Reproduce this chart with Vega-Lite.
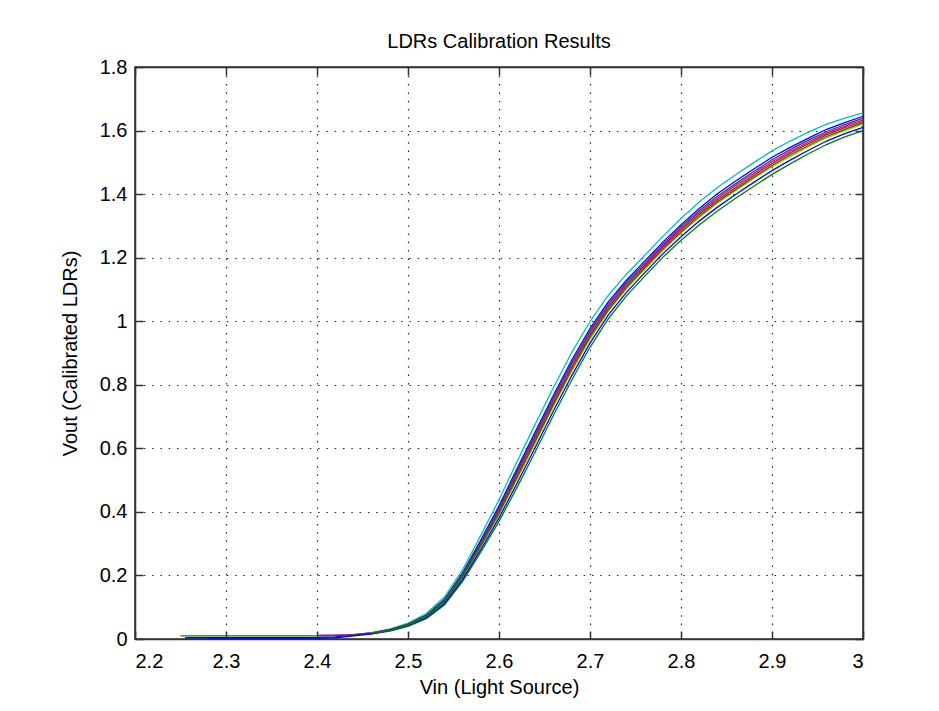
{
  "$schema": "https://vega.github.io/schema/vega-lite/v6.json",
  "width": 728,
  "height": 572,
  "autosize": {"type": "none"},
  "padding": {"left": 135, "top": 67, "right": 76, "bottom": 72},
  "background": "white",
  "title": {"text": "LDRs Calibration Results", "fontSize": 20, "font": "Liberation Sans", "fontWeight": "normal", "color": "#000000", "offset": 5, "anchor": "middle"},
  "config": {
    "view": {"stroke": "#333333", "strokeWidth": 1.5},
    "axis": {
      "labelFont": "Liberation Sans", "labelFontSize": 20, "labelColor": "#000000",
      "titleFont": "Liberation Sans", "titleFontSize": 20, "titleFontWeight": "normal", "titleColor": "#000000",
      "domainColor": "#333333", "domainWidth": 1.5,
      "tickColor": "#333333", "tickWidth": 1.5, "tickSize": -8,
      "gridColor": "#222222", "gridWidth": 1.2, "gridDash": [1.5, 6.8], "gridOpacity": 1
    }
  },
  "data": {"values": [
    {"s":"1","x":2.255,"y":0.004},{"s":"1","x":2.30,"y":0.004},{"s":"1","x":2.35,"y":0.004},{"s":"1","x":2.40,"y":0.005},{"s":"1","x":2.42,"y":0.007},{"s":"1","x":2.44,"y":0.013},{"s":"1","x":2.46,"y":0.019},{"s":"1","x":2.48,"y":0.029},{"s":"1","x":2.50,"y":0.047},{"s":"1","x":2.52,"y":0.075},{"s":"1","x":2.54,"y":0.125},{"s":"1","x":2.56,"y":0.208},{"s":"1","x":2.58,"y":0.311},{"s":"1","x":2.60,"y":0.419},{"s":"1","x":2.62,"y":0.537},{"s":"1","x":2.64,"y":0.653},{"s":"1","x":2.66,"y":0.768},{"s":"1","x":2.68,"y":0.878},{"s":"1","x":2.70,"y":0.977},{"s":"1","x":2.72,"y":1.061},{"s":"1","x":2.74,"y":1.129},{"s":"1","x":2.76,"y":1.189},{"s":"1","x":2.78,"y":1.249},{"s":"1","x":2.80,"y":1.304},{"s":"1","x":2.82,"y":1.355},{"s":"1","x":2.84,"y":1.401},{"s":"1","x":2.86,"y":1.441},{"s":"1","x":2.88,"y":1.479},{"s":"1","x":2.90,"y":1.516},{"s":"1","x":2.92,"y":1.547},{"s":"1","x":2.94,"y":1.576},{"s":"1","x":2.96,"y":1.604},{"s":"1","x":2.98,"y":1.625},{"s":"1","x":3.00,"y":1.645},
    {"s":"2","x":2.25,"y":0.010},{"s":"2","x":2.30,"y":0.010},{"s":"2","x":2.35,"y":0.010},{"s":"2","x":2.40,"y":0.010},{"s":"2","x":2.42,"y":0.011},{"s":"2","x":2.44,"y":0.012},{"s":"2","x":2.46,"y":0.016},{"s":"2","x":2.48,"y":0.025},{"s":"2","x":2.50,"y":0.040},{"s":"2","x":2.52,"y":0.064},{"s":"2","x":2.54,"y":0.107},{"s":"2","x":2.56,"y":0.181},{"s":"2","x":2.58,"y":0.273},{"s":"2","x":2.60,"y":0.370},{"s":"2","x":2.62,"y":0.478},{"s":"2","x":2.64,"y":0.590},{"s":"2","x":2.66,"y":0.705},{"s":"2","x":2.68,"y":0.815},{"s":"2","x":2.70,"y":0.918},{"s":"2","x":2.72,"y":1.007},{"s":"2","x":2.74,"y":1.080},{"s":"2","x":2.76,"y":1.141},{"s":"2","x":2.78,"y":1.201},{"s":"2","x":2.80,"y":1.255},{"s":"2","x":2.82,"y":1.303},{"s":"2","x":2.84,"y":1.347},{"s":"2","x":2.86,"y":1.387},{"s":"2","x":2.88,"y":1.425},{"s":"2","x":2.90,"y":1.462},{"s":"2","x":2.92,"y":1.495},{"s":"2","x":2.94,"y":1.527},{"s":"2","x":2.96,"y":1.556},{"s":"2","x":2.98,"y":1.580},{"s":"2","x":3.00,"y":1.600},
    {"s":"3","x":2.43,"y":0.008},{"s":"3","x":2.46,"y":0.017},{"s":"3","x":2.48,"y":0.027},{"s":"3","x":2.50,"y":0.044},{"s":"3","x":2.52,"y":0.071},{"s":"3","x":2.54,"y":0.119},{"s":"3","x":2.56,"y":0.198},{"s":"3","x":2.58,"y":0.297},{"s":"3","x":2.60,"y":0.402},{"s":"3","x":2.62,"y":0.516},{"s":"3","x":2.64,"y":0.631},{"s":"3","x":2.66,"y":0.746},{"s":"3","x":2.68,"y":0.856},{"s":"3","x":2.70,"y":0.956},{"s":"3","x":2.72,"y":1.041},{"s":"3","x":2.74,"y":1.112},{"s":"3","x":2.76,"y":1.172},{"s":"3","x":2.78,"y":1.232},{"s":"3","x":2.80,"y":1.287},{"s":"3","x":2.82,"y":1.337},{"s":"3","x":2.84,"y":1.381},{"s":"3","x":2.86,"y":1.421},{"s":"3","x":2.88,"y":1.459},{"s":"3","x":2.90,"y":1.496},{"s":"3","x":2.92,"y":1.529},{"s":"3","x":2.94,"y":1.559},{"s":"3","x":2.96,"y":1.587},{"s":"3","x":2.98,"y":1.609},{"s":"3","x":3.00,"y":1.629},
    {"s":"4","x":2.44,"y":0.014},{"s":"4","x":2.46,"y":0.020},{"s":"4","x":2.48,"y":0.031},{"s":"4","x":2.50,"y":0.050},{"s":"4","x":2.52,"y":0.080},{"s":"4","x":2.54,"y":0.132},{"s":"4","x":2.56,"y":0.218},{"s":"4","x":2.58,"y":0.326},{"s":"4","x":2.60,"y":0.438},{"s":"4","x":2.62,"y":0.559},{"s":"4","x":2.64,"y":0.677},{"s":"4","x":2.66,"y":0.792},{"s":"4","x":2.68,"y":0.902},{"s":"4","x":2.70,"y":0.999},{"s":"4","x":2.72,"y":1.081},{"s":"4","x":2.74,"y":1.148},{"s":"4","x":2.76,"y":1.207},{"s":"4","x":2.78,"y":1.267},{"s":"4","x":2.80,"y":1.323},{"s":"4","x":2.82,"y":1.375},{"s":"4","x":2.84,"y":1.421},{"s":"4","x":2.86,"y":1.461},{"s":"4","x":2.88,"y":1.499},{"s":"4","x":2.90,"y":1.536},{"s":"4","x":2.92,"y":1.567},{"s":"4","x":2.94,"y":1.595},{"s":"4","x":2.96,"y":1.620},{"s":"4","x":2.98,"y":1.639},{"s":"4","x":3.00,"y":1.656},
    {"s":"5","x":2.40,"y":0.012},{"s":"5","x":2.42,"y":0.012},{"s":"5","x":2.44,"y":0.014},{"s":"5","x":2.46,"y":0.019},{"s":"5","x":2.48,"y":0.030},{"s":"5","x":2.50,"y":0.046},{"s":"5","x":2.52,"y":0.073},{"s":"5","x":2.54,"y":0.121},{"s":"5","x":2.56,"y":0.201},{"s":"5","x":2.58,"y":0.302},{"s":"5","x":2.60,"y":0.407},{"s":"5","x":2.62,"y":0.523},{"s":"5","x":2.64,"y":0.638},{"s":"5","x":2.66,"y":0.753},{"s":"5","x":2.68,"y":0.863},{"s":"5","x":2.70,"y":0.963},{"s":"5","x":2.72,"y":1.047},{"s":"5","x":2.74,"y":1.117},{"s":"5","x":2.76,"y":1.177},{"s":"5","x":2.78,"y":1.237},{"s":"5","x":2.80,"y":1.292},{"s":"5","x":2.82,"y":1.342},{"s":"5","x":2.84,"y":1.387},{"s":"5","x":2.86,"y":1.427},{"s":"5","x":2.88,"y":1.465},{"s":"5","x":2.90,"y":1.502},{"s":"5","x":2.92,"y":1.534},{"s":"5","x":2.94,"y":1.564},{"s":"5","x":2.96,"y":1.592},{"s":"5","x":2.98,"y":1.614},{"s":"5","x":3.00,"y":1.634},
    {"s":"6","x":2.455,"y":0.016},{"s":"6","x":2.46,"y":0.018},{"s":"6","x":2.48,"y":0.027},{"s":"6","x":2.50,"y":0.043},{"s":"6","x":2.52,"y":0.069},{"s":"6","x":2.54,"y":0.115},{"s":"6","x":2.56,"y":0.193},{"s":"6","x":2.58,"y":0.290},{"s":"6","x":2.60,"y":0.392},{"s":"6","x":2.62,"y":0.504},{"s":"6","x":2.64,"y":0.618},{"s":"6","x":2.66,"y":0.733},{"s":"6","x":2.68,"y":0.843},{"s":"6","x":2.70,"y":0.944},{"s":"6","x":2.72,"y":1.031},{"s":"6","x":2.74,"y":1.102},{"s":"6","x":2.76,"y":1.162},{"s":"6","x":2.78,"y":1.222},{"s":"6","x":2.80,"y":1.277},{"s":"6","x":2.82,"y":1.326},{"s":"6","x":2.84,"y":1.371},{"s":"6","x":2.86,"y":1.411},{"s":"6","x":2.88,"y":1.449},{"s":"6","x":2.90,"y":1.486},{"s":"6","x":2.92,"y":1.518},{"s":"6","x":2.94,"y":1.549},{"s":"6","x":2.96,"y":1.577},{"s":"6","x":2.98,"y":1.600},{"s":"6","x":3.00,"y":1.620},
    {"s":"7","x":2.42,"y":0.010},{"s":"7","x":2.44,"y":0.013},{"s":"7","x":2.46,"y":0.018},{"s":"7","x":2.48,"y":0.029},{"s":"7","x":2.50,"y":0.046},{"s":"7","x":2.52,"y":0.074},{"s":"7","x":2.54,"y":0.123},{"s":"7","x":2.56,"y":0.204},{"s":"7","x":2.58,"y":0.306},{"s":"7","x":2.60,"y":0.413},{"s":"7","x":2.62,"y":0.529},{"s":"7","x":2.64,"y":0.645},{"s":"7","x":2.66,"y":0.760},{"s":"7","x":2.68,"y":0.870},{"s":"7","x":2.70,"y":0.969},{"s":"7","x":2.72,"y":1.053},{"s":"7","x":2.74,"y":1.123},{"s":"7","x":2.76,"y":1.182},{"s":"7","x":2.78,"y":1.242},{"s":"7","x":2.80,"y":1.298},{"s":"7","x":2.82,"y":1.348},{"s":"7","x":2.84,"y":1.393},{"s":"7","x":2.86,"y":1.433},{"s":"7","x":2.88,"y":1.471},{"s":"7","x":2.90,"y":1.508},{"s":"7","x":2.92,"y":1.540},{"s":"7","x":2.94,"y":1.570},{"s":"7","x":2.96,"y":1.597},{"s":"7","x":2.98,"y":1.619},{"s":"7","x":3.00,"y":1.639},
    {"s":"8","x":2.28,"y":0.003},{"s":"8","x":2.32,"y":0.003},{"s":"8","x":2.36,"y":0.003},{"s":"8","x":2.40,"y":0.003},{"s":"8","x":2.42,"y":0.004},{"s":"8","x":2.44,"y":0.010},{"s":"8","x":2.46,"y":0.016},{"s":"8","x":2.48,"y":0.026},{"s":"8","x":2.50,"y":0.042},{"s":"8","x":2.52,"y":0.066},{"s":"8","x":2.54,"y":0.111},{"s":"8","x":2.56,"y":0.187},{"s":"8","x":2.58,"y":0.281},{"s":"8","x":2.60,"y":0.381},{"s":"8","x":2.62,"y":0.491},{"s":"8","x":2.64,"y":0.604},{"s":"8","x":2.66,"y":0.719},{"s":"8","x":2.68,"y":0.829},{"s":"8","x":2.70,"y":0.931},{"s":"8","x":2.72,"y":1.019},{"s":"8","x":2.74,"y":1.091},{"s":"8","x":2.76,"y":1.152},{"s":"8","x":2.78,"y":1.212},{"s":"8","x":2.80,"y":1.266},{"s":"8","x":2.82,"y":1.315},{"s":"8","x":2.84,"y":1.359},{"s":"8","x":2.86,"y":1.399},{"s":"8","x":2.88,"y":1.437},{"s":"8","x":2.90,"y":1.474},{"s":"8","x":2.92,"y":1.507},{"s":"8","x":2.94,"y":1.538},{"s":"8","x":2.96,"y":1.567},{"s":"8","x":2.98,"y":1.590},{"s":"8","x":3.00,"y":1.610},
    {"s":"9","x":2.46,"y":0.018},{"s":"9","x":2.48,"y":0.027},{"s":"9","x":2.50,"y":0.044},{"s":"9","x":2.52,"y":0.070},{"s":"9","x":2.54,"y":0.117},{"s":"9","x":2.56,"y":0.195},{"s":"9","x":2.58,"y":0.293},{"s":"9","x":2.60,"y":0.396},{"s":"9","x":2.62,"y":0.510},{"s":"9","x":2.64,"y":0.624},{"s":"9","x":2.66,"y":0.739},{"s":"9","x":2.68,"y":0.849},{"s":"9","x":2.70,"y":0.950},{"s":"9","x":2.72,"y":1.035},{"s":"9","x":2.74,"y":1.106},{"s":"9","x":2.76,"y":1.167},{"s":"9","x":2.78,"y":1.227},{"s":"9","x":2.80,"y":1.281},{"s":"9","x":2.82,"y":1.331},{"s":"9","x":2.84,"y":1.375},{"s":"9","x":2.86,"y":1.415},{"s":"9","x":2.88,"y":1.453},{"s":"9","x":2.90,"y":1.490},{"s":"9","x":2.92,"y":1.523},{"s":"9","x":2.94,"y":1.553},{"s":"9","x":2.96,"y":1.582},{"s":"9","x":2.98,"y":1.604},{"s":"9","x":3.00,"y":1.624}
  ]},
  "layer": [
    {
      "mark": {"type": "line", "strokeWidth": 1.3},
      "encoding": {
        "x": {"field": "x", "type": "quantitative", "scale": {"domain": [2.2, 3], "nice": false, "zero": false},
              "axis": {"orient": "bottom", "values": [2.2,2.3,2.4,2.5,2.6,2.7,2.8,2.9,3], "format": "~g", "title": "Vin (Light Source)", "labelPadding": 20, "titlePadding": 6}},
        "y": {"field": "y", "type": "quantitative", "scale": {"domain": [0, 1.8], "nice": false, "zero": false},
              "axis": {"orient": "left", "values": [0,0.2,0.4,0.6,0.8,1,1.2,1.4,1.6,1.8], "format": "~g", "title": "Vout (Calibrated LDRs)", "labelPadding": 16, "titlePadding": 19}},
        "color": {"field": "s", "type": "nominal", "legend": null,
                  "scale": {"domain": ["1","2","3","4","5","6","7","8","9"], "range": ["#0000ff","#008000","#ff0000","#00bfbf","#bf00bf","#bfbf00","#404040","#0000ff","#008000"]}}
      }
    },
    {
      "mark": {"type": "line", "opacity": 0},
      "encoding": {
        "x": {"field": "x", "type": "quantitative", "axis": {"orient": "top", "values": [2.2,2.3,2.4,2.5,2.6,2.7,2.8,2.9,3], "labels": false, "grid": false, "title": null}},
        "y": {"field": "y", "type": "quantitative", "axis": {"orient": "right", "values": [0,0.2,0.4,0.6,0.8,1,1.2,1.4,1.6,1.8], "labels": false, "grid": false, "title": null}},
        "detail": {"field": "s", "type": "nominal"}
      }
    }
  ],
  "resolve": {"axis": {"x": "independent", "y": "independent"}}
}
